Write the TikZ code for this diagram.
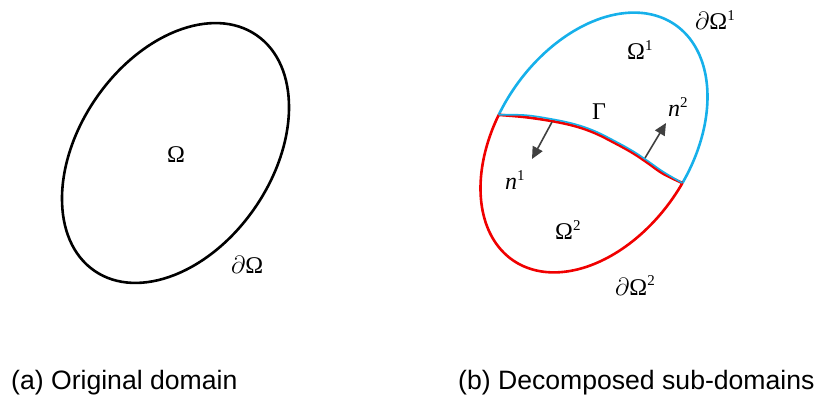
\documentclass[tikz,border=0pt]{standalone}
\usepackage{fontspec}
\setmainfont{Liberation Serif}
\newfontfamily\capfont{Liberation Sans}
\usetikzlibrary{arrows.meta}
\definecolor{cblue}{RGB}{22,176,234}
\definecolor{cred}{RGB}{240,0,0}
\definecolor{cgray}{RGB}{64,64,64}
\newcommand{\supr}[1]{\raisebox{9.5pt}{\fontsize{15}{15}\selectfont\upshape #1}}
\begin{document}
\begin{tikzpicture}[x=1pt,y=-1pt,
  bnd/.style={line width=2.6pt},
  lbl/.style={font=\fontsize{24}{26}\selectfont, inner sep=0pt, anchor=base west},
  captxt/.style={font=\capfont\fontsize{26.6}{28}\selectfont, inner sep=0pt, anchor=base west},
  nrm/.style={cgray, line width=1.6pt, -{Triangle[length=12pt,width=11pt]}}]
\useasboundingbox (0,0) rectangle (819,398);
% (a) original domain
\begin{scope}[shift={(175.5,153)}, rotate=55.5]
  \draw[bnd] (0,0) ellipse[x radius=143pt, y radius=96.5pt];
\end{scope}
\node[lbl] (om) at (167,163) {Ω};
\node[lbl] (dom) at (231,273) {$\partial$Ω};
% (b) decomposed
\begin{scope}[shift={(594,142.5)}, rotate=55.5]
  \coordinate (L) at ({143*cos(-102.6)},{96.5*sin(-102.6)});
  \coordinate (R) at ({143*cos(83.3)},{96.5*sin(83.3)});
  \draw[bnd, cblue] plot[domain=-102.6:83.3, samples=100, smooth] ({143*cos(\x)},{96.5*sin(\x)});
  \draw[bnd, cred] plot[domain=-276.7:-102.6, samples=100, smooth] ({143*cos(\x)},{96.5*sin(\x)});
\end{scope}
\draw[cred, line width=2.7pt, yshift=-0.6pt] plot[smooth, tension=0.6] coordinates {(L) (525,116.5) (552,120.5) (575,125.5) (595,132.5) (615,142.5) (633,152.5) (648,162.5) (663,173) (R)};
\draw[cblue, line width=1.6pt, yshift=1.4pt] plot[smooth, tension=0.6] coordinates {(L) (525,116.5) (552,120.5) (575,125.5) (595,132.5) (615,142.5) (633,152.5) (648,162.5) (663,173) (R)};
\coordinate (g1) at (552,122);
\coordinate (t1) at (532,159);
\coordinate (g2) at (645,158);
\coordinate (t2) at (666,123);
\draw[nrm] (g1) -- (t1);
\draw[nrm] (g2) -- (t2);
\node[lbl] (om1) at (627,60) {Ω\supr{1}};
\node[lbl] (dom1) at (695,30) {$\partial$Ω\supr{1}};
\node[lbl] (om2) at (555,240) {Ω\supr{2}};
\node[lbl] (dom2) at (615,295) {$\partial$Ω\supr{2}};
\node[lbl] (gam) at (592,120) {Γ};
\node[lbl] (n1) at (505,190) {\itshape n\supr{1}};
\node[lbl] (n2) at (668,117) {\itshape n\supr{2}};
% captions
\node[captxt] (ca) at (11,389.5) {(a) Original domain};
\node[captxt] (cb) at (458,389.5) {(b) Decomposed sub-domains};
\end{tikzpicture}
\end{document}
